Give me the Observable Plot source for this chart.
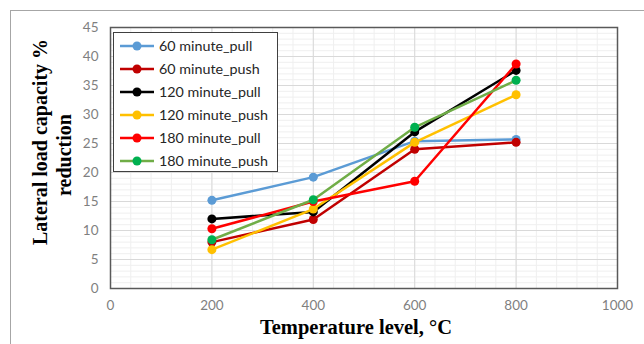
<!DOCTYPE html>
<html>
<head>
<meta charset="utf-8">
<script src="https://cdn.jsdelivr.net/npm/d3@7"></script>
<script src="https://cdn.jsdelivr.net/npm/@observablehq/plot@0.6"></script>
<style>
  html, body { margin: 0; padding: 0; background: #fff; }
  #wrap { position: relative; width: 644px; height: 344px; overflow: hidden; }
  #outer { position: absolute; left: 10px; top: 10px; width: 700px; height: 400px; border: 1.5px solid #a6a6a6; box-sizing: border-box; }
  #chart { position: absolute; left: 0; top: 0; }
  #legend { position: absolute; left: 113px; top: 32px; width: 165px; height: 140px; box-sizing: border-box;
            border: 1.5px solid #404040; background: #fff; font-family: Lato, "Open Sans", sans-serif; font-size: 14.3px; color: #262626; }
  .item { position: absolute; left: 0; height: 23px; display: flex; align-items: center; }
  .item svg { margin-left: 5px; margin-right: 4px; }
  .ytitle { position: absolute; font-family: "Liberation Serif", "Times New Roman", serif; font-weight: bold; font-size: 20px; color: #000;
            white-space: nowrap; transform: translate(-50%, -50%) rotate(-90deg); }
  #xtitle { position: absolute; left: 356px; top: 327px; transform: translate(-50%, -50%); font-family: "Liberation Serif", "Times New Roman", serif;
            font-weight: bold; font-size: 20.5px; white-space: nowrap; }
</style>
</head>
<body>
<div id="wrap">
  <div id="outer"></div>
  <div id="chart"></div>
  <div class="ytitle" style="left:40px; top:142px;">Lateral load capacity %</div>
  <div class="ytitle" style="left:64px; top:155px;">reduction</div>
  <div id="xtitle">Temperature level, °C</div>
  <div id="legend"></div>
</div>
<script>
// Temperature levels (°C) at which each specimen group was tested
const temps = [200, 400, 600, 800];

// Lateral load capacity reduction (%) per exposure time and loading direction
const pull60  = [15.2, 19.2, 25.4, 25.7];
const push60  = [8.0, 11.9, 24.0, 25.2];
const pull120 = [12.0, 13.2, 27.0, 37.6];
const push120 = [6.7, 13.7, 25.2, 33.4];
const pull180 = [10.3, 15.0, 18.5, 38.7];
const push180 = [8.4, 15.3, 27.8, 35.9];

const seriesNames = ["60 minute_pull", "60 minute_push", "120 minute_pull", "120 minute_push", "180 minute_pull", "180 minute_push"];
const seriesValues = [pull60, push60, pull120, push120, pull180, push180];
const lineColors = ["#5b9bd5", "#c00000", "#000000", "#ffc000", "#ff0000", "#70ad47"];
const dotColors  = ["#5b9bd5", "#c00000", "#000000", "#ffc000", "#ff0000", "#00b050"];

// Axis ticks
const xTicks = [0, 200, 400, 600, 800, 1000];
const yTicks = [0, 5, 10, 15, 20, 25, 30, 35, 40, 45];
const xMinor = d3.range(0, 1001, 40);
const yMinor = d3.range(0, 46, 1);

const rows = seriesNames.map((name, i) => temps.map((t, j) => ({series: name, temp: t, value: seriesValues[i][j]})));

const seriesMarks = rows.flatMap((data, i) => [
  Plot.line(data, {x: "temp", y: "value", stroke: lineColors[i], strokeWidth: 2.5}),
  Plot.dot(data, {x: "temp", y: "value", r: 4.5, fill: dotColors[i], stroke: "none"})
]);

const chart = Plot.plot({
  width: 644,
  height: 344,
  marginLeft: 110,
  marginRight: 27,
  marginTop: 27,
  marginBottom: 56,
  style: {fontFamily: "Lato, 'Open Sans', sans-serif", fontSize: "13px", background: "transparent"},
  x: {domain: [0, 1000]},
  y: {domain: [0, 45]},
  marks: [
    Plot.ruleY(yMinor, {stroke: "#efefef", strokeWidth: 1}),
    Plot.ruleX(xMinor, {stroke: "#efefef", strokeWidth: 1}),
    Plot.ruleY(yTicks, {stroke: "#d9d9d9", strokeWidth: 1}),
    Plot.ruleX(xTicks, {stroke: "#d9d9d9", strokeWidth: 1}),
    Plot.frame({stroke: "#595959", strokeWidth: 1.5}),
    Plot.axisX(xTicks, {tickSize: 0, tickPadding: 12, label: null, fill: "#7f7f7f", fontSize: 13.5, tickFormat: d => String(d)}),
    Plot.axisY(yTicks, {tickSize: 0, tickPadding: 12, label: null, fill: "#7f7f7f", fontSize: 13.5, tickFormat: d => String(d)}),
    ...seriesMarks
  ]
});
document.getElementById("chart").appendChild(chart);

// Legend entries
const legend = document.getElementById("legend");
seriesNames.forEach((name, i) => {
  const item = document.createElement("div");
  item.className = "item";
  item.style.top = (1 + i * 23) + "px";
  item.innerHTML =
    `<svg width="36" height="12"><line x1="1" y1="6" x2="35" y2="6" stroke="${lineColors[i]}" stroke-width="2.5"/>` +
    `<circle cx="18" cy="6" r="4.5" fill="${dotColors[i]}"/></svg><span>${name}</span>`;
  legend.appendChild(item);
});
</script>
</body>
</html>
